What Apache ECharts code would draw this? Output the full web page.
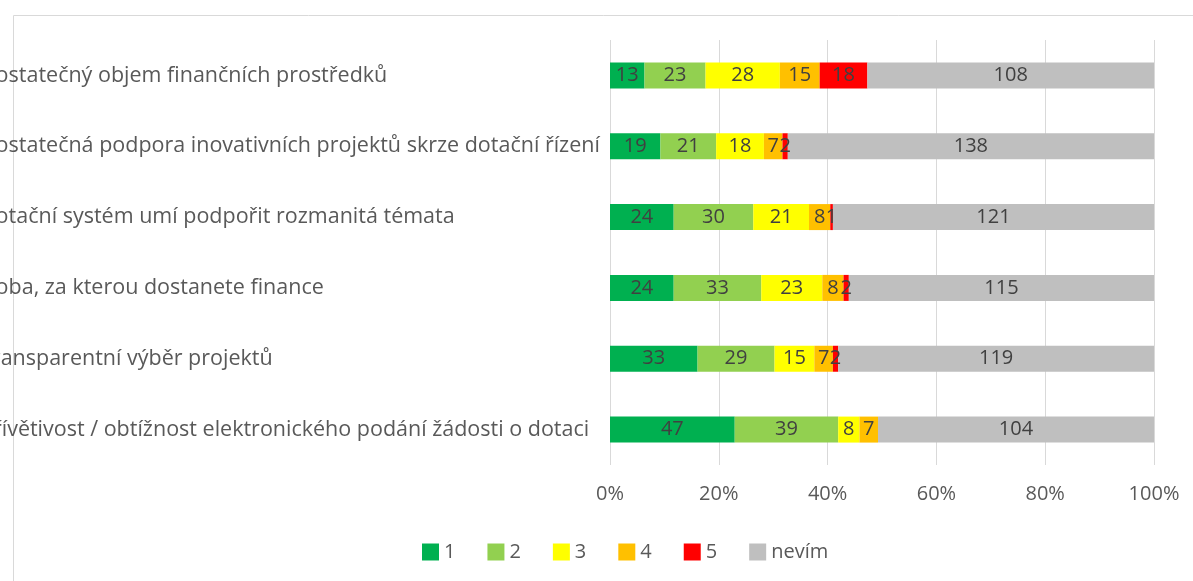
<!DOCTYPE html>
<html>
<head>
<meta charset="utf-8">
<script src="https://cdn.jsdelivr.net/npm/echarts@6/dist/echarts.min.js"></script>
<style>
	html, body { margin: 0; padding: 0; background: #fff; }
	#chart { width: 1193px; height: 581px; }
</style>
</head>
<body>
<div id="chart"></div>
<script>
// categories from top to bottom
const categories = [
	'Dostatečný objem finančních prostředků',
	'Dostatečná podpora inovativních projektů skrze dotační řízení',
	'Dotační systém umí podpořit rozmanitá témata',
	'Doba, za kterou dostanete finance',
	'Transparentní výběr projektů',
	'Přívětivost / obtížnost elektronického podání žádosti o dotaci'
];
const seriesNames = ['1', '2', '3', '4', '5', 'nevím'];
const val1 = [13, 19, 24, 24, 33, 47];
const val2 = [23, 21, 30, 33, 29, 39];
const val3 = [28, 18, 21, 23, 15, 8];
const val4 = [15, 7, 8, 8, 7, 7];
const val5 = [18, 2, 1, 2, 2, 0];
const valNevim = [108, 138, 121, 115, 119, 104];
const colors = ['#00B050', '#92D050', '#FFFF00', '#FFC000', '#FF0000', '#BFBFBF'];
const tickLabels = ['0%', '20%', '40%', '60%', '80%', '100%'];

const allVals = [val1, val2, val3, val4, val5, valNevim];
const totals = categories.map((c, i) => allVals.reduce((s, arr) => s + arr[i], 0));

let chart = echarts.init(document.getElementById('chart'));

let series = allVals.map(function(arr, k) {
	return {
		name: seriesNames[k],
		type: 'bar',
		stack: 'all',
		barWidth: 26,
		itemStyle: { color: colors[k] },
		label: {
			show: true,
			position: 'inside',
			color: '#404040',
			fontFamily: '"Open Sans", sans-serif',
			fontSize: 20,
			formatter: function(p) {
				return p.data.raw === 0 ? '' : String(p.data.raw);
			}
		},
		data: arr.map((v, i) => ({ value: v / totals[i] * 100, raw: v }))
	};
});

let option = {
	animation: false,
	color: colors,
	graphic: [{
		type: 'rect',
		left: 11,
		top: 13,
		z: -10,
		shape: { width: 1300, height: 700 },
		style: { fill: 'none', stroke: '#D9D9D9', lineWidth: 1 }
	}],
	grid: {
		left: 610,
		right: 39,
		top: 40,
		bottom: 116,
		containLabel: false,
		outerBoundsMode: 'none'
	},
	legend: {
		left: 417,
		top: 537,
		icon: 'rect',
		itemWidth: 17,
		itemHeight: 17,
		itemGap: 32,
		data: seriesNames,
		textStyle: {
			color: '#595959',
			fontFamily: '"Open Sans", sans-serif',
			fontSize: 20
		}
	},
	xAxis: {
		type: 'value',
		min: 0,
		max: 100,
		interval: 20,
		axisLine: { show: false },
		axisTick: { show: false },
		splitLine: { lineStyle: { color: '#D9D9D9', width: 1 } },
		axisLabel: {
			color: '#595959',
			fontFamily: '"Open Sans", sans-serif',
			fontSize: 20,
			margin: 19,
			formatter: function(v) {
				return tickLabels[Math.round(v / 20)];
			}
		}
	},
	yAxis: {
		type: 'category',
		inverse: true,
		data: categories,
		axisLine: { show: false },
		axisTick: { show: false },
		axisLabel: {
			align: 'left',
			margin: 630,
			color: '#595959',
			fontFamily: '"Open Sans", sans-serif',
			fontSize: 21.5
		}
	},
	series: series
};

chart.setOption(option);
</script>
</body>
</html>
